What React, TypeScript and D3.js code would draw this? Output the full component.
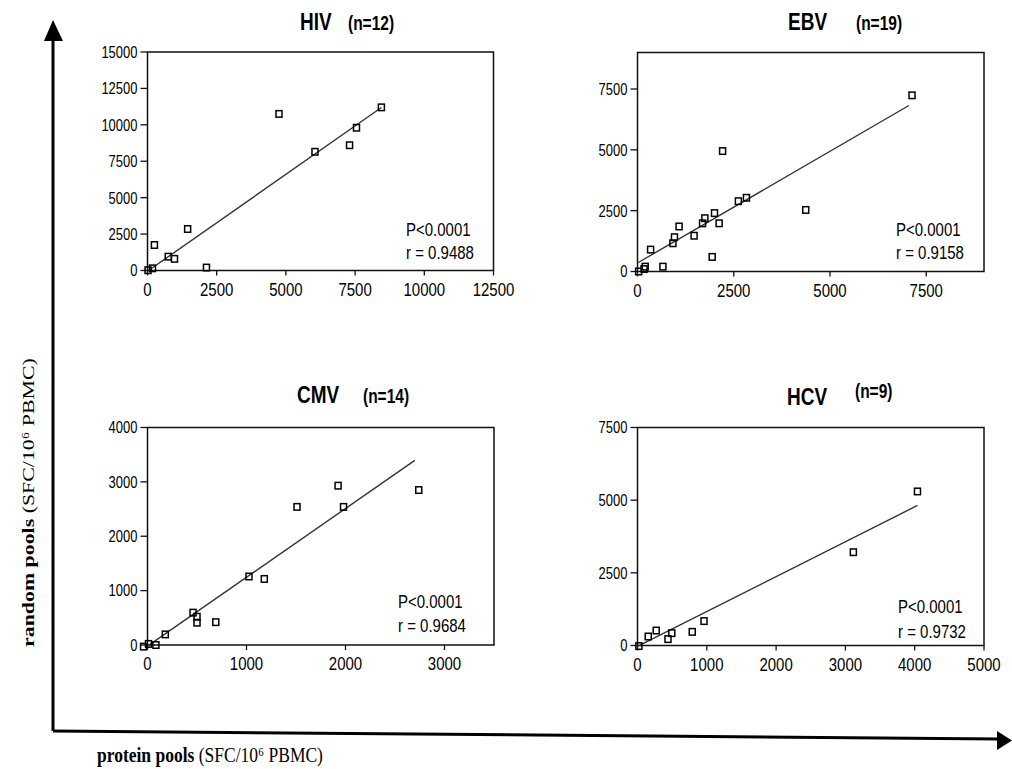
import React from "react";
import * as d3 from "d3";

// ---------- data ----------
const hivX = [8450, 4750, 7550, 7300, 6050, 1450, 250, 750, 975, 2130, 180, 20];
const hivY = [11200, 10750, 9800, 8600, 8150, 2850, 1750, 950, 800, 200, 150, 20];
const hivFit = { intercept: -50, slope: 1.33, from: 0, to: 8450 };

const ebvX = [7130, 2210, 4370, 2830, 2620, 2000, 1750, 1690, 2120, 1080, 1470, 960, 920, 340, 1940, 660, 200, 170, 30];
const ebvY = [7240, 4950, 2530, 3030, 2890, 2400, 2190, 1980, 1980, 1850, 1470, 1410, 1160, 900, 600, 200, 200, 100, 0];
const ebvFit = { intercept: 350, slope: 0.918, from: 0, to: 7050 };

const cmvX = [2740, 1925, 1980, 1510, 1025, 1180, 460, 500, 500, 690, 180, 85, 10, -40];
const cmvY = [2850, 2930, 2540, 2540, 1260, 1215, 595, 520, 410, 420, 195, 0, 20, -30];
const cmvFit = { intercept: -20, slope: 1.265, from: 0, to: 2700 };

const hcvX = [4040, 3115, 960, 790, 495, 440, 270, 155, 20];
const hcvY = [5300, 3210, 840, 470, 425, 220, 515, 310, -20];
const hcvFit = { intercept: -30, slope: 1.2, from: 0, to: 4040 };

const hivXTicks = [0, 2500, 5000, 7500, 10000, 12500];
const hivYTicks = [0, 2500, 5000, 7500, 10000, 12500, 15000];
const ebvXTicks = [0, 2500, 5000, 7500];
const ebvYTicks = [0, 2500, 5000, 7500];
const cmvXTicks = [0, 1000, 2000, 3000];
const cmvYTicks = [0, 1000, 2000, 3000, 4000];
const hcvXTicks = [0, 1000, 2000, 3000, 4000, 5000];
const hcvYTicks = [0, 2500, 5000, 7500];

const virusNames = ["HIV", "EBV", "CMV", "HCV"];
const nLabels = ["(n=12)", "(n=19)", "(n=14)", "(n=9)"];
const pLabels = ["P<0.0001", "P<0.0001", "P<0.0001", "P<0.0001"];
const rLabels = ["r = 0.9488", "r = 0.9158", "r = 0.9684", "r = 0.9732"];

const xLabelBold = "protein pools";
const xLabelRest = " (SFC/10\u2076 PBMC)";
const yLabelBold = "random pools";
const yLabelRest = " (SFC/10\u2076 PBMC)";

// ---------- layout ----------
const SY = 1.25;
const sans = "'Liberation Sans', Arial, sans-serif";
const serif = "'Liberation Serif', 'Times New Roman', serif";

const panels = [
  {
    xs: hivX, ys: hivY, fit: hivFit, xDom: [0, 12500], yDom: [0, 15000],
    xTicks: hivXTicks, yTicks: hivYTicks,
    box: { l: 147.5, r: 493.5, t: 52, b: 270.5 },
    title: { x: 300, nx: 348, y: 30, ny: 30 },
    stat: { x: 406, py: 236, ry: 259 },
  },
  {
    xs: ebvX, ys: ebvY, fit: ebvFit, xDom: [0, 9000], yDom: [0, 9000],
    xTicks: ebvXTicks, yTicks: ebvYTicks,
    box: { l: 637.5, r: 984, t: 52.5, b: 271.5 },
    title: { x: 788, nx: 856, y: 30, ny: 30 },
    stat: { x: 896, py: 236, ry: 259 },
  },
  {
    xs: cmvX, ys: cmvY, fit: cmvFit, xDom: [0, 3500], yDom: [0, 4000],
    xTicks: cmvXTicks, yTicks: cmvYTicks,
    box: { l: 147.5, r: 494, t: 427.5, b: 645 },
    title: { x: 297, nx: 363, y: 403, ny: 403 },
    stat: { x: 398, py: 608, ry: 632 },
  },
  {
    xs: hcvX, ys: hcvY, fit: hcvFit, xDom: [0, 5000], yDom: [0, 7500],
    xTicks: hcvXTicks, yTicks: hcvYTicks,
    box: { l: 637.5, r: 984, t: 427.5, b: 645.5 },
    title: { x: 787, nx: 855, y: 405, ny: 398 },
    stat: { x: 898, py: 613, ry: 638 },
  },
];

function T(props: any) {
  const { x, y, size, weight, family, anchor, dy, children, rotate } = props;
  const tr = `translate(${x},${y}) scale(1,${SY})${rotate ? ` rotate(${rotate})` : ""}`;
  return (
    <text
      transform={tr}
      fontSize={size}
      fontWeight={weight || "normal"}
      fontFamily={family || sans}
      textAnchor={anchor || "start"}
      dy={dy}
      fill="#000"
    >
      {children}
    </text>
  );
}

function Panel({ p, i }: any) {
  const { box } = p;
  const x = d3.scaleLinear().domain(p.xDom).range([box.l, box.r]);
  const y = d3.scaleLinear().domain(p.yDom).range([box.b, box.t]);
  const line = d3.line<number>().x((d) => x(d)).y((d) => y(p.fit.intercept + p.fit.slope * d));
  const fitPts = [p.fit.from, p.fit.to];
  const mw = 6, mh = 6.5;
  return (
    <g>
      <T x={p.title.x} y={p.title.y} size={19} weight="bold">{virusNames[i]}</T>
      <T x={p.title.nx} y={p.title.ny} size={15.5} weight="bold">{nLabels[i]}</T>
      <rect x={box.l} y={box.t} width={box.r - box.l} height={box.b - box.t} fill="none" stroke="#111" strokeWidth={1.5} />
      {p.yTicks.map((t: number) => (
        <g key={"y" + t}>
          <line x1={box.l - 7} x2={box.l} y1={y(t)} y2={y(t)} stroke="#111" strokeWidth={1.3} />
          <T x={box.l - 10} y={y(t)} size={13} anchor="end" dy="0.36em">{t}</T>
        </g>
      ))}
      {p.xTicks.map((t: number) => (
        <g key={"x" + t}>
          <line x1={x(t)} x2={x(t)} y1={box.b} y2={box.b + 5} stroke="#111" strokeWidth={1.3} />
          <T x={x(t)} y={box.b + 25} size={15} anchor="middle">{t}</T>
        </g>
      ))}
      <path d={line(fitPts) || ""} fill="none" stroke="#333" strokeWidth={1.4} />
      {p.xs.map((vx: number, k: number) => (
        <rect
          key={k}
          x={x(vx) - mw / 2}
          y={y(p.ys[k]) - mh / 2}
          width={mw}
          height={mh}
          fill="#fff"
          fillOpacity={0}
          stroke="#000"
          strokeWidth={1.5}
        />
      ))}
      <T x={p.stat.x} y={p.stat.py} size={15}>{pLabels[i]}</T>
      <T x={p.stat.x} y={p.stat.ry} size={15}>{rLabels[i]}</T>
    </g>
  );
}

export default function App() {
  return (
    <svg
      width={1012}
      height={769}
      style={{ position: "absolute", left: 0, top: 0, display: "block", background: "#fff" }}
    >
      <rect x={0} y={0} width={1012} height={769} fill="#fff" />
      <path d="M53,731 L53,40" stroke="#000" strokeWidth={3} fill="none" />
      <path d="M44,41 L53,20 L63,41 Z" fill="#000" />
      <path d="M53,731 L999,739" stroke="#000" strokeWidth={3} fill="none" />
      <path d="M997,731 L1012,740.5 L997,750 Z" fill="#000" />
      <T x={97} y={762} size={17.5} family={serif}>
        <tspan fontWeight="bold">{xLabelBold}</tspan>
        <tspan>{xLabelRest}</tspan>
      </T>
      <T x={34} y={647} size={17.5} family={serif} rotate={-90}>
        <tspan fontWeight="bold">{yLabelBold}</tspan>
        <tspan>{yLabelRest}</tspan>
      </T>
      {panels.map((p, i) => (
        <Panel key={i} p={p} i={i} />
      ))}
    </svg>
  );
}
